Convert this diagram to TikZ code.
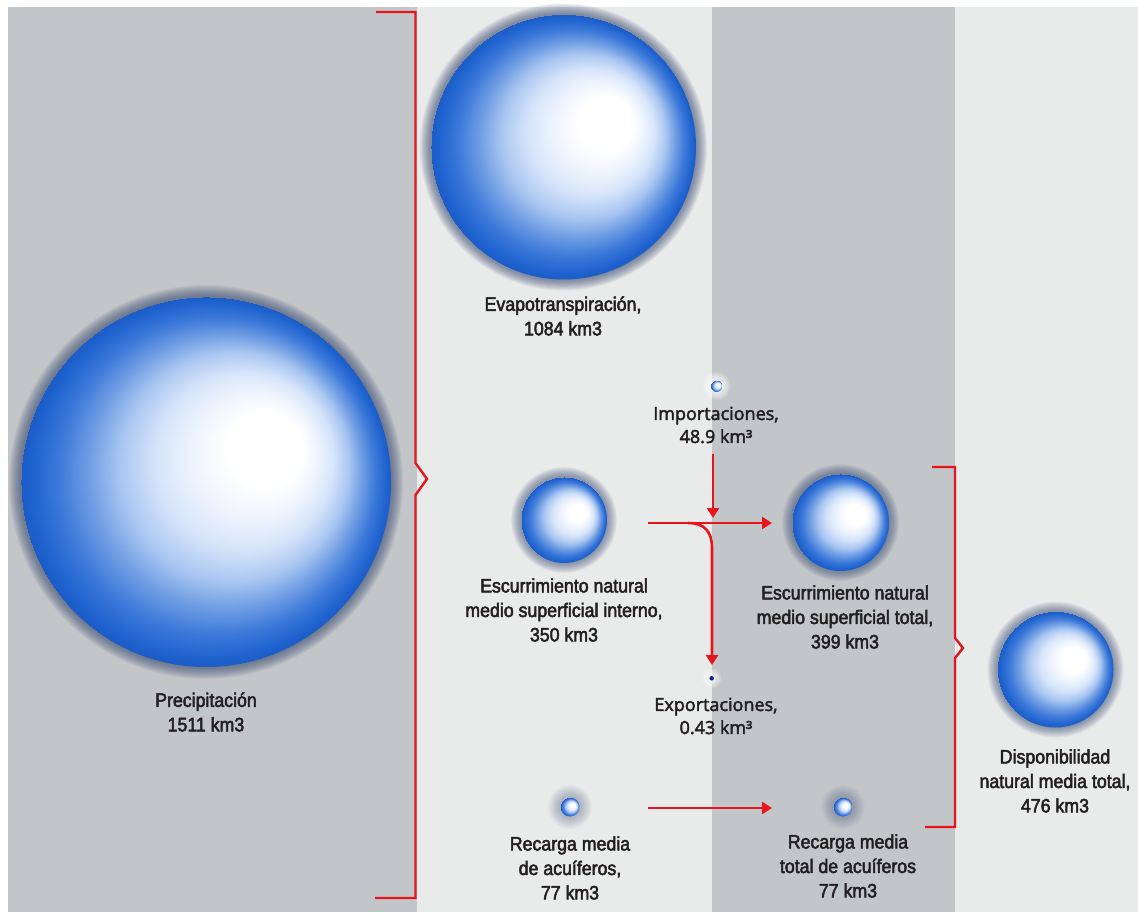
\documentclass[tikz,border=0pt]{standalone}
\usepackage{fontspec}
\setmainfont{Liberation Sans}[FakeStretch=0.91,FakeBold=2.5]
\newfontfamily\opensans{Open Sans}[FakeBold=2.5]
\usetikzlibrary{arrows.meta}
\definecolor{bgdark}{HTML}{C3C6C9}
\definecolor{bglight}{HTML}{E9EAEA}
\definecolor{redl}{HTML}{E8141C}
\definecolor{txt}{HTML}{231F20}
\definecolor{s0}{HTML}{EEF4FD}
\definecolor{sA}{HTML}{D6E4FA}
\definecolor{sB}{HTML}{A9C6F1}
\definecolor{sC}{HTML}{6F9DE3}
\definecolor{sD}{HTML}{3B78D9}
\definecolor{sE}{HTML}{1F63CF}
\definecolor{sF}{HTML}{1B5CC6}
\definecolor{halocol}{HTML}{34466E}
\definecolor{navy}{HTML}{0D1F8C}
\pgfdeclareradialshading{sph}{\pgfpoint{10bp}{5.5bp}}{color(0bp)=(white); color(5bp)=(white); color(8.5bp)=(s0); color(12bp)=(sA); color(15.5bp)=(sB); color(18.5bp)=(sC); color(21.5bp)=(sD); color(24bp)=(sE); color(25bp)=(sF)}
\newcommand\halo[5]{% x, y, r, width, opacity
  \foreach \k in {1,...,12}{\fill[halocol, opacity=#5] (#1,#2) circle[radius={#3pt+\k*#4pt/12}];}}
\begin{document}
\begin{tikzpicture}[x=1pt,y=-1pt,
  lbl/.style={align=center, text=txt, font=\fontsize{19.5}{24.5}\selectfont, inner sep=0pt},
  lbltwo/.style={align=center, text=txt, font=\opensans\fontsize{18}{23}\selectfont, inner sep=0pt},
  flow/.style={draw=redl, line width=2.6pt, -{Triangle[length=10pt,width=12pt]}},
  bracket/.style={draw=redl, line width=2.4pt, line join=miter},
  sphnode/.style={circle, inner sep=0pt, shade, shading=sph}]
\useasboundingbox (0,0) rectangle (1138,912);
% background
\fill[white] (0,0) rectangle (1138,912);
\fill[bgdark] (8,7) rectangle (417,912);
\fill[bglight] (417,7) rectangle (712,912);
\fill[bgdark] (712,7) rectangle (955,912);
\fill[bglight] (955,7) rectangle (1138,912);
% halos
\halo{206}{482}{185}{12}{0.065}
\halo{563.5}{147}{132.5}{11}{0.065}
\halo{564}{520}{43}{10}{0.055}
\halo{840.5}{522.5}{48.5}{10}{0.055}
\halo{1055.5}{669.5}{58}{10}{0.055}
\halo{570}{807}{9}{13}{0.03}
\halo{843}{807}{9}{13}{0.03}
\foreach \k in {1,...,8}{\fill[white, opacity=0.12] (716.5,386) circle[radius={6pt+\k*1pt}];}
\foreach \k in {1,...,8}{\fill[white, opacity=0.12] (711.7,678.3) circle[radius={2pt+\k*1pt}];}
% spheres
\node[sphnode, minimum size=370pt] (prec) at (206,482) {};
\node[sphnode, minimum size=265pt] (evap) at (563.5,147) {};
\node[sphnode, minimum size=86pt] (inter) at (564,520) {};
\node[sphnode, minimum size=97pt] (tot) at (840.5,522.5) {};
\node[sphnode, minimum size=116pt] (disp) at (1055.5,669.5) {};
\node[sphnode, minimum size=12pt] (imp) at (716.5,386) {};
\node[circle, fill=navy, inner sep=0pt, minimum size=4.5pt] (exp) at (711.7,678.3) {};
\node[sphnode, minimum size=19pt] (rec) at (570,807) {};
\node[sphnode, minimum size=19pt] (rectot) at (843,807) {};
% brackets
\draw[bracket] (376,12) -- (415.5,12) -- (415.5,463) -- (427,479) -- (415.5,495) -- (415.5,898) -- (375,898);
\draw[bracket] (932,467) -- (955,467) -- (955,638) -- (963,648) -- (955,658) -- (955,827) -- (925,827);
% labels
\node[lbl] (tprec) at (206,712) {Precipitación\\1511 km3};
\node[lbl] (tevap) at (563,316) {Evapotranspiración,\\1084 km3};
\node[lbltwo] (timp) at (716,425) {Importaciones,\\48.9 km³};
\node[lbl] (tint) at (564,610) {Escurrimiento natural\\medio superficial interno,\\350 km3};
\node[lbl] (ttot) at (845,617) {Escurrimiento natural\\medio superficial total,\\399 km3};
\node[lbltwo] (texp) at (716,716) {Exportaciones,\\0.43 km³};
\node[lbl] (tdisp) at (1055,781) {Disponibilidad\\natural media total,\\476 km3};
\node[lbl] (trec) at (570,868) {Recarga media\\de acuíferos,\\77 km3};
\node[lbl] (trectot) at (848,866) {Recarga media\\total de acuíferos\\77 km3};
% arrows
\coordinate (hA) at (648,523);
\coordinate (hB) at (772,523);
\coordinate (iA) at (713,454);
\coordinate (iB) at (713,518);
\coordinate (cA) at (688,523);
\coordinate (cB) at (712,548);
\coordinate (eB) at (712,665);
\coordinate (rA) at (648,808);
\coordinate (rB) at (772,808);
\draw[flow] (hA) -- (hB);
\draw[flow] (iA) -- (iB);
\draw[flow] (cA) .. controls (704,523) and (712,531) .. (cB) -- (eB);
\draw[flow] (rA) -- (rB);
\end{tikzpicture}
\end{document}
